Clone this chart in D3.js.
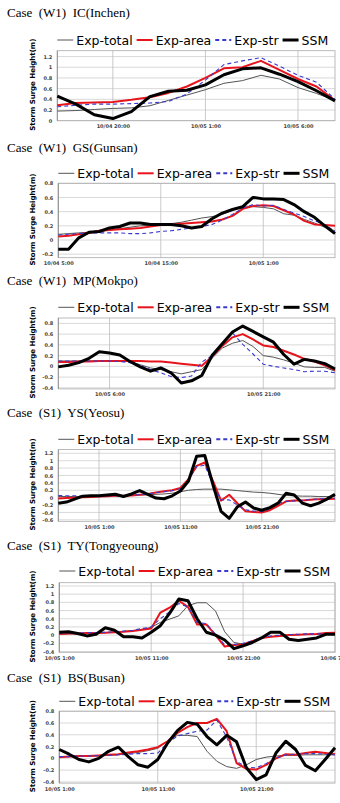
<!DOCTYPE html>
<html lang="en">
<head>
<meta charset="UTF-8">
<title>Storm surge height comparison</title>
<script src="https://d3js.org/d3.v7.min.js"></script>
<style>
  body { margin: 0; background: #fff; }
  svg { display: block; }
  .title { font-family: "Liberation Serif", "Times New Roman", serif; font-size: 13px; white-space: pre; }
  .legend text { font-family: "DejaVu Sans", Verdana, sans-serif; font-size: 12.5px; }
  .tick text { font-family: "DejaVu Sans", Verdana, sans-serif; font-size: 5px; font-weight: bold; fill: #444; }
  .ytitle { font-family: "DejaVu Sans", Verdana, sans-serif; font-size: 7px; font-weight: bold; }
</style>
</head>
<body>
<script>
// hourly values, m
var icTotal = [0.18,0.19,0.21,0.23,0.24,0.28,0.38,0.48,0.58,0.70,0.75,0.85,0.78,0.62,0.51,0.38];
var icArea  = [0.29,0.33,0.34,0.35,0.39,0.44,0.52,0.64,0.80,0.98,1.00,1.12,0.95,0.78,0.64,0.38];
var icStr   = [0.26,0.29,0.31,0.31,0.32,0.33,0.36,0.50,0.76,1.05,1.12,1.18,1.02,0.85,0.72,0.40];
var icSsm   = [0.46,0.31,0.11,0.04,0.17,0.45,0.55,0.57,0.67,0.86,0.97,0.99,0.87,0.73,0.56,0.37];
var icTicks = [3, 8, 13];
var icLabels = ["10/04 20:00", "10/05 1:00", "10/05 6:00"];

var gsTotal = [0.08,0.09,0.10,0.11,0.12,0.14,0.16,0.18,0.20,0.21,0.22,0.23,0.25,0.28,0.31,0.33,0.36,0.42,0.48,0.47,0.46,0.44,0.37,0.35,0.29,0.24,0.18,0.13];
var gsArea  = [0.05,0.06,0.08,0.10,0.13,0.14,0.15,0.16,0.17,0.19,0.21,0.22,0.23,0.24,0.25,0.26,0.29,0.34,0.44,0.48,0.49,0.48,0.42,0.36,0.27,0.22,0.21,0.20];
var gsStr   = [0.07,0.08,0.09,0.10,0.10,0.10,0.10,0.09,0.09,0.10,0.12,0.13,0.15,0.17,0.19,0.22,0.28,0.36,0.45,0.50,0.48,0.49,0.43,0.38,0.33,0.27,0.22,0.12];
var gsSsm   = [-0.13,-0.13,0.03,0.11,0.12,0.17,0.19,0.24,0.24,0.22,0.22,0.22,0.20,0.17,0.19,0.30,0.38,0.43,0.47,0.60,0.58,0.58,0.57,0.50,0.40,0.32,0.20,0.09];
var gsTicks = [0, 10, 20];
var gsLabels = ["10/04 5:00", "10/04 15:00", "10/05 1:00"];

var mpTotal = [0.10,0.10,0.10,0.10,0.10,0.10,0.10,0.09,0.03,-0.03,-0.06,-0.10,-0.14,-0.10,-0.06,0.15,0.34,0.43,0.48,0.37,0.20,0.17,0.12,0.06,-0.01,-0.02,-0.02,-0.09];
var mpArea  = [0.08,0.08,0.09,0.09,0.10,0.10,0.10,0.10,0.10,0.09,0.09,0.07,0.05,0.03,0.01,0.18,0.38,0.54,0.60,0.50,0.39,0.36,0.29,0.22,0.14,0.09,0.02,-0.07];
var mpStr   = [0.10,0.10,0.10,0.10,0.10,0.10,0.09,0.07,0.02,-0.06,-0.12,-0.19,-0.21,-0.18,0.08,0.20,0.43,0.62,0.41,0.23,0.04,0.00,-0.03,-0.06,-0.10,-0.09,-0.09,-0.12];
var mpSsm   = [-0.01,0.02,0.07,0.15,0.27,0.25,0.21,0.09,-0.01,-0.09,-0.03,-0.12,-0.31,-0.27,-0.17,0.20,0.42,0.64,0.75,0.65,0.55,0.45,0.22,0.04,0.13,0.10,0.05,-0.05];
var mpTicks = [5, 20];
var mpLabels = ["10/05 6:00", "10/05 21:00"];

var ysTotal = [0.03,0.03,0.03,0.03,0.03,0.04,0.04,0.05,0.05,0.06,0.07,0.08,0.09,0.10,0.12,0.16,0.20,0.22,0.23,0.23,0.23,0.21,0.19,0.17,0.15,0.14,0.12,0.09,0.06,0.05,0.04,0.04,0.03,0.03,0.03];
var ysArea  = [-0.02,-0.01,0.00,0.01,0.02,0.03,0.04,0.05,0.05,0.06,0.08,0.10,0.14,0.17,0.20,0.26,0.50,0.86,0.95,0.45,-0.08,0.08,-0.15,-0.37,-0.39,-0.40,-0.34,-0.22,-0.10,-0.08,-0.08,-0.06,-0.04,-0.04,-0.03];
var ysStr   = [0.06,0.05,0.05,0.04,0.04,0.04,0.05,0.05,0.06,0.07,0.08,0.10,0.14,0.16,0.19,0.24,0.48,0.84,0.88,0.35,-0.06,-0.06,-0.20,-0.33,-0.36,-0.38,-0.30,-0.16,-0.10,-0.09,-0.07,-0.05,-0.03,-0.02,-0.02];
var ysSsm   = [-0.15,-0.12,-0.04,0.04,0.05,0.05,0.07,0.09,0.03,0.10,0.19,0.09,-0.01,-0.03,0.05,0.18,0.45,1.12,1.14,0.35,-0.37,-0.56,-0.25,-0.12,-0.28,-0.34,-0.27,-0.15,0.12,0.07,-0.15,-0.22,-0.15,-0.04,0.09];
var ysTicks = [5, 15, 25];
var ysLabels = ["10/05 1:00", "10/05 11:00", "10/05 21:00"];

var tyTotal = [0.02,0.03,0.04,0.04,0.05,0.06,0.07,0.09,0.11,0.14,0.19,0.31,0.39,0.47,0.72,0.79,0.79,0.59,0.08,-0.18,-0.22,-0.15,-0.07,-0.04,-0.02,0.00,0.01,0.02,0.02,0.02,0.02];
var tyArea  = [0.03,0.04,0.04,0.05,0.05,0.06,0.07,0.08,0.10,0.13,0.16,0.55,0.67,0.84,0.69,0.26,0.26,0.00,-0.28,-0.24,-0.23,-0.15,-0.07,-0.04,-0.02,0.00,0.01,0.02,0.03,0.05,0.06];
var tyStr   = [0.05,0.05,0.05,0.06,0.06,0.07,0.08,0.10,0.12,0.16,0.20,0.40,0.57,0.77,0.69,0.31,0.28,0.02,-0.24,-0.23,-0.20,-0.14,-0.06,-0.02,0.00,0.01,0.02,0.03,0.03,0.03,0.03];
var tySsm   = [0.07,0.08,0.04,-0.02,0.02,0.18,0.12,-0.04,-0.04,-0.07,0.07,0.23,0.53,0.88,0.84,0.40,0.07,0.00,-0.12,-0.33,-0.26,-0.18,-0.07,0.07,0.07,-0.10,-0.13,-0.10,-0.07,0.02,0.02];
var tyTicks = [0, 10, 20, 30];
var tyLabels = ["10/05 1:00", "10/05 11:00", "10/05 21:00", "10/06 7:00"];

var bsTotal = [0.02,0.03,0.03,0.04,0.04,0.05,0.06,0.08,0.10,0.13,0.17,0.30,0.39,0.39,0.37,0.12,-0.05,-0.14,-0.17,-0.11,-0.02,0.02,0.04,0.05,0.05,0.06,0.06,0.06,0.06];
var bsArea  = [0.02,0.03,0.04,0.04,0.05,0.06,0.07,0.10,0.12,0.15,0.19,0.29,0.43,0.53,0.60,0.60,0.67,0.46,-0.08,-0.18,-0.19,-0.11,0.00,0.07,0.06,0.09,0.11,0.09,0.07];
var bsStr   = [0.03,0.03,0.04,0.04,0.05,0.05,0.06,0.07,0.08,0.08,0.09,0.26,0.38,0.42,0.46,0.48,0.65,0.36,-0.05,-0.15,-0.16,-0.09,0.00,0.06,0.07,0.08,0.08,0.07,0.06];
var bsSsm   = [0.15,0.07,-0.02,-0.06,0.00,0.12,0.19,0.03,-0.11,-0.15,-0.02,0.26,0.47,0.61,0.58,0.37,0.23,0.39,0.28,-0.16,-0.36,-0.28,0.09,0.29,0.15,-0.12,-0.21,-0.02,0.18];
var bsTicks = [0, 10, 20];
var bsLabels = ["10/05 1:00", "10/05 11:00", "10/05 21:00"];

var seriesNames = ["Exp-total", "Exp-area", "Exp-str", "SSM"];
var seriesStyle = [
    { color: "#555", width: 1, dash: null },
    { color: "#e8141c", width: 2, dash: null },
    { color: "#3a3ad0", width: 1.1, dash: "4,3" },
    { color: "#000", width: 3, dash: null }
];

// layout of each panel on the page
var panels = [
    { title: "Case  (W1)  IC(Inchen)", data: [icTotal, icArea, icStr, icSsm], ticks: icTicks, labels: icLabels,
      titleY: 17, legendY: 40, top: 50.7, bottom: 120.7, left: 57.3, yDom: [0, 1.31], yTicks: [0, 1.2] },
    { title: "Case  (W1)  GS(Gunsan)", data: [gsTotal, gsArea, gsStr, gsSsm], ticks: gsTicks, labels: gsLabels,
      titleY: 152, legendY: 173.3, top: 183.3, bottom: 257.7, left: 58.3, yDom: [-0.25, 0.8], yTicks: [-0.2, 0.8] },
    { title: "Case  (W1)  MP(Mokpo)", data: [mpTotal, mpArea, mpStr, mpSsm], ticks: mpTicks, labels: mpLabels,
      titleY: 285, legendY: 307.3, top: 318, bottom: 388.9, left: 58.3, yDom: [-0.42, 0.9], yTicks: [-0.4, 0.8] },
    { title: "Case  (S1)  YS(Yeosu)", data: [ysTotal, ysArea, ysStr, ysSsm], ticks: ysTicks, labels: ysLabels,
      titleY: 417, legendY: 439.3, top: 449.6, bottom: 521.3, left: 58.3, yDom: [-0.64, 1.3], yTicks: [-0.6, 1.2] },
    { title: "Case  (S1)  TY(Tongyeoung)", data: [tyTotal, tyArea, tyStr, tySsm], ticks: tyTicks, labels: tyLabels,
      titleY: 550, legendY: 571, top: 582.7, bottom: 652.3, left: 59.3, yDom: [-0.42, 1.28], yTicks: [-0.4, 1.2] },
    { title: "Case  (S1)  BS(Busan)", data: [bsTotal, bsArea, bsStr, bsSsm], ticks: bsTicks, labels: bsLabels,
      titleY: 682, legendY: 701.3, top: 711.2, bottom: 783.1, left: 59.3, yDom: [-0.42, 0.8], yTicks: [-0.4, 0.8] }
];

var width = 340, height = 803, right = 335;

var svg = d3.select("body").append("svg")
    .attr("width", width)
    .attr("height", height);

svg.append("rect").attr("width", width).attr("height", height).attr("fill", "#fff");

panels.forEach(function(p) {
    var g = svg.append("g");
    var n = p.data[0].length - 1;

    var x = d3.scaleLinear().domain([0, n]).range([p.left, right]);
    var y = d3.scaleLinear().domain(p.yDom).range([p.bottom, p.top]);

    var yVals = d3.range(Math.round(p.yTicks[0] * 10), Math.round(p.yTicks[1] * 10) + 1, 2)
        .map(function(v) { return v / 10; });

    // title
    g.append("text")
        .attr("class", "title")
        .attr("x", 7)
        .attr("y", p.titleY)
        .text(p.title);

    // grid
    g.selectAll(".hgrid").data(yVals).enter().append("line")
        .attr("x1", p.left).attr("x2", right)
        .attr("y1", function(d) { return y(d); })
        .attr("y2", function(d) { return y(d); })
        .attr("stroke", "#cfcfcf").attr("stroke-width", 0.8);

    g.selectAll(".vgrid").data(p.ticks).enter().append("line")
        .attr("x1", function(d) { return x(d); })
        .attr("x2", function(d) { return x(d); })
        .attr("y1", p.top).attr("y2", p.bottom)
        .attr("stroke", "#bdbdbd").attr("stroke-width", 0.8);

    g.append("rect")
        .attr("x", p.left).attr("y", p.top)
        .attr("width", right - p.left).attr("height", p.bottom - p.top)
        .attr("fill", "none").attr("stroke", "#aaa").attr("stroke-width", 0.8);

    g.append("line")
        .attr("x1", p.left).attr("x2", p.left)
        .attr("y1", p.top).attr("y2", p.bottom)
        .attr("stroke", "#888").attr("stroke-width", 0.8);

    // axes
    var yAxis = g.append("g")
        .attr("transform", "translate(" + p.left + ",0)")
        .call(d3.axisLeft(y).tickValues(yVals).tickSize(0).tickPadding(5)
            .tickFormat(function(d) { return String(Math.round(d * 10) / 10); }));
    yAxis.select(".domain").remove();

    var xAxis = g.append("g")
        .attr("transform", "translate(0," + p.bottom + ")")
        .call(d3.axisBottom(x).tickValues(p.ticks).tickSize(0).tickPadding(4)
            .tickFormat(function(d, i) { return p.labels[i]; }));
    xAxis.select(".domain").remove();

    g.append("text")
        .attr("class", "ytitle")
        .attr("transform", "translate(35," + ((p.top + p.bottom) / 2 - 1) + ") rotate(-90)")
        .attr("text-anchor", "middle")
        .text("Storm Surge Height(m)");

    // series
    var line = d3.line()
        .x(function(d, i) { return x(i); })
        .y(function(d) { return y(d); });

    p.data.forEach(function(vals, k) {
        var s = seriesStyle[k];
        g.append("path")
            .datum(vals)
            .attr("d", line)
            .attr("fill", "none")
            .attr("stroke", s.color)
            .attr("stroke-width", s.width)
            .attr("stroke-linejoin", "round")
            .attr("stroke-dasharray", s.dash);
    });

    // legend
    var lg = g.append("g").attr("class", "legend");
    var cx = p.left;
    seriesNames.forEach(function(name, k) {
        var s = seriesStyle[k];
        lg.append("line")
            .attr("x1", cx).attr("x2", cx + 16)
            .attr("y1", p.legendY).attr("y2", p.legendY)
            .attr("stroke", s.color)
            .attr("stroke-width", k === 3 ? 3 : (k === 0 ? 1 : 2))
            .attr("stroke-dasharray", s.dash);
        var t = lg.append("text")
            .attr("x", cx + 19)
            .attr("y", p.legendY)
            .attr("dy", "0.36em")
            .text(name);
        cx += 19 + t.node().getComputedTextLength() + 4;
    });
});
</script>
</body>
</html>
